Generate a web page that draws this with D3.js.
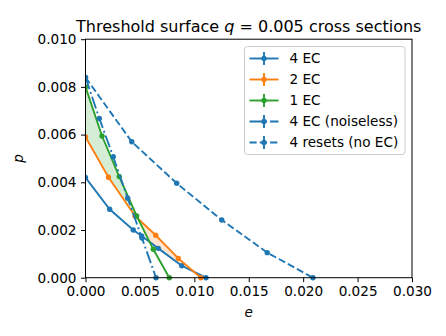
<!DOCTYPE html>
<html>
<head>
<meta charset="utf-8">
<script src="https://cdn.jsdelivr.net/npm/d3@7"></script>
<style>
  body { margin: 0; background: #fff; }
  svg { font-family: "DejaVu Sans", sans-serif; }
</style>
</head>
<body>
<svg id="chart" width="446" height="336"></svg>
<script>
// series (e, p)
const ec4E = [0, 0.00222, 0.00439, 0.00516, 0.00669, 0.00884, 0.01107];
const ec4P = [0.0042, 0.00287, 0.0020, 0.00175, 0.00123, 0.0005, 0];
const ec2E = [0, 0.00211, 0.00455, 0.00645, 0.00853, 0.0106];
const ec2P = [0.0059, 0.00421, 0.00259, 0.00178, 0.00081, 0];
const ec1E = [0, 0.00152, 0.0031, 0.0047, 0.00623, 0.0077];
const ec1P = [0.0080, 0.00594, 0.00424, 0.00259, 0.00119, 0];
const noiselessE = [0, 0.00127, 0.00255, 0.00388, 0.00519, 0.00648];
const noiselessP = [0.0084, 0.00668, 0.00507, 0.00333, 0.00166, 0];
const resetsE = [0, 0.00425, 0.00838, 0.01252, 0.0167, 0.0209];
const resetsP = [0.0084, 0.0057, 0.00396, 0.00242, 0.00105, 0];

const xTicks = [0, 0.005, 0.010, 0.015, 0.020, 0.025, 0.030];
const yTicks = [0, 0.002, 0.004, 0.006, 0.008, 0.010];

const blue = "#1f77b4", orange = "#ff7f0e", green = "#2ca02c";

const series = [
  { label: "4 EC", e: ec4E, p: ec4P, color: blue, dash: null },
  { label: "2 EC", e: ec2E, p: ec2P, color: orange, dash: null },
  { label: "1 EC", e: ec1E, p: ec1P, color: green, dash: null },
  { label: "4 EC (noiseless)", e: noiselessE, p: noiselessP, color: blue, dash: "12.4,3.1,1.9,3.1" },
  { label: "4 resets (no EC)", e: resetsE, p: resetsP, color: blue, dash: "7.2,3.1" }
];

const svg = d3.select("#chart");
const mLeft = 85.5, mRight = 412, mTop = 39.2, mBottom = 277.7;
const fs = "13.6px";

const x = d3.scaleLinear().domain([0, 0.03]).range([mLeft, mRight]);
const y = d3.scaleLinear().domain([0, 0.01]).range([mBottom, mTop]);

// linear lookup of a series at e (0 beyond its end)
function valueAt(s, e) {
  const n = s.e.length;
  if (e >= s.e[n - 1]) return 0;
  const i = d3.bisectRight(s.e, e) - 1;
  const t = (e - s.e[i]) / (s.e[i + 1] - s.e[i]);
  return s.p[i] + t * (s.p[i + 1] - s.p[i]);
}

// shade where each EC variant is the best one
const ecSeries = series.slice(0, 3);
const grid = d3.range(0, 0.0112, 0.00002);
ecSeries.forEach((s, k) => {
  const others = ecSeries.filter((o, j) => j !== k);
  const rows = grid.map(e => ({
    e: e,
    hi: valueAt(s, e),
    lo: d3.max(others, o => valueAt(o, e))
  }));
  svg.append("path")
    .datum(rows)
    .attr("d", d3.area()
      .defined(d => d.hi > d.lo)
      .x(d => x(d.e))
      .y0(d => y(d.lo))
      .y1(d => y(d.hi)))
    .attr("fill", s.color)
    .attr("fill-opacity", 0.2);
});

svg.append("clipPath").attr("id", "clip")
  .append("rect").attr("x", mLeft).attr("y", mTop - 4)
  .attr("width", mRight - mLeft + 4).attr("height", mBottom - mTop + 8);

const plot = svg.append("g").attr("clip-path", "url(#clip)");

series.forEach(s => {
  const pts = s.e.map((e, i) => [e, s.p[i]]);
  plot.append("path")
    .datum(pts)
    .attr("d", d3.line().x(d => x(d[0])).y(d => y(d[1])))
    .attr("fill", "none")
    .attr("stroke", s.color)
    .attr("stroke-width", 1.9)
    .attr("stroke-dasharray", s.dash);
  plot.selectAll(null)
    .data(pts)
    .join("circle")
    .attr("cx", d => x(d[0]))
    .attr("cy", d => y(d[1]))
    .attr("r", 2.7)
    .attr("fill", s.color);
});

// axes
const xAxis = svg.append("g")
  .attr("transform", `translate(0,${mBottom})`)
  .call(d3.axisBottom(x).tickValues(xTicks).tickFormat(d3.format(".3f")).tickSizeOuter(0).tickSize(4.5).tickPadding(4));
const yAxis = svg.append("g")
  .attr("transform", `translate(${mLeft},0)`)
  .call(d3.axisLeft(y).tickValues(yTicks).tickFormat(d3.format(".3f")).tickSizeOuter(0).tickSize(4.5).tickPadding(4.5));
[xAxis, yAxis].forEach(a => {
  a.select(".domain").remove();
  a.selectAll("line").attr("stroke", "#000").attr("stroke-width", 1);
  a.selectAll("text").attr("fill", "#000").style("font-size", fs).style("font-family", "DejaVu Sans");
});

svg.append("rect")
  .attr("x", mLeft).attr("y", mTop)
  .attr("width", mRight - mLeft).attr("height", mBottom - mTop)
  .attr("fill", "none").attr("stroke", "#000").attr("stroke-width", 1);

// title
const title = svg.append("text")
  .attr("x", (mLeft + mRight) / 2)
  .attr("y", 31.5)
  .attr("text-anchor", "middle")
  .style("font-size", "16px");
title.append("tspan").text("Threshold surface ");
title.append("tspan").style("font-style", "italic").text("q");
title.append("tspan").text(" = 0.005 cross sections");

svg.append("text")
  .attr("x", (mLeft + mRight) / 2)
  .attr("y", 317)
  .attr("text-anchor", "middle")
  .style("font-size", fs)
  .style("font-style", "italic")
  .text("e");

svg.append("text")
  .attr("transform", `translate(23,${(mTop + mBottom) / 2}) rotate(-90)`)
  .attr("text-anchor", "middle")
  .style("font-size", fs)
  .style("font-style", "italic")
  .text("p");

// legend
const lg = svg.append("g");
lg.append("rect")
  .attr("x", 244.5).attr("y", 46.5)
  .attr("width", 160.5).attr("height", 108)
  .attr("rx", 3)
  .attr("fill", "#fff").attr("fill-opacity", 0.8)
  .attr("stroke", "#cccccc").attr("stroke-width", 1);

series.forEach((s, i) => {
  const cy = 58.5 + i * 21;
  lg.append("line")
    .attr("x1", 249.5).attr("x2", 278.5)
    .attr("y1", cy).attr("y2", cy)
    .attr("stroke", s.color).attr("stroke-width", 1.9)
    .attr("stroke-dasharray", s.dash);
  lg.append("line")
    .attr("x1", 264).attr("x2", 264)
    .attr("y1", cy - 6.5).attr("y2", cy + 6.5)
    .attr("stroke", s.color).attr("stroke-width", 1.9);
  lg.append("circle")
    .attr("cx", 264).attr("cy", cy).attr("r", 2.7)
    .attr("fill", s.color);
  lg.append("text")
    .attr("x", 289.5).attr("y", cy + 4.8)
    .style("font-size", fs)
    .text(s.label);
});
</script>
</body>
</html>
